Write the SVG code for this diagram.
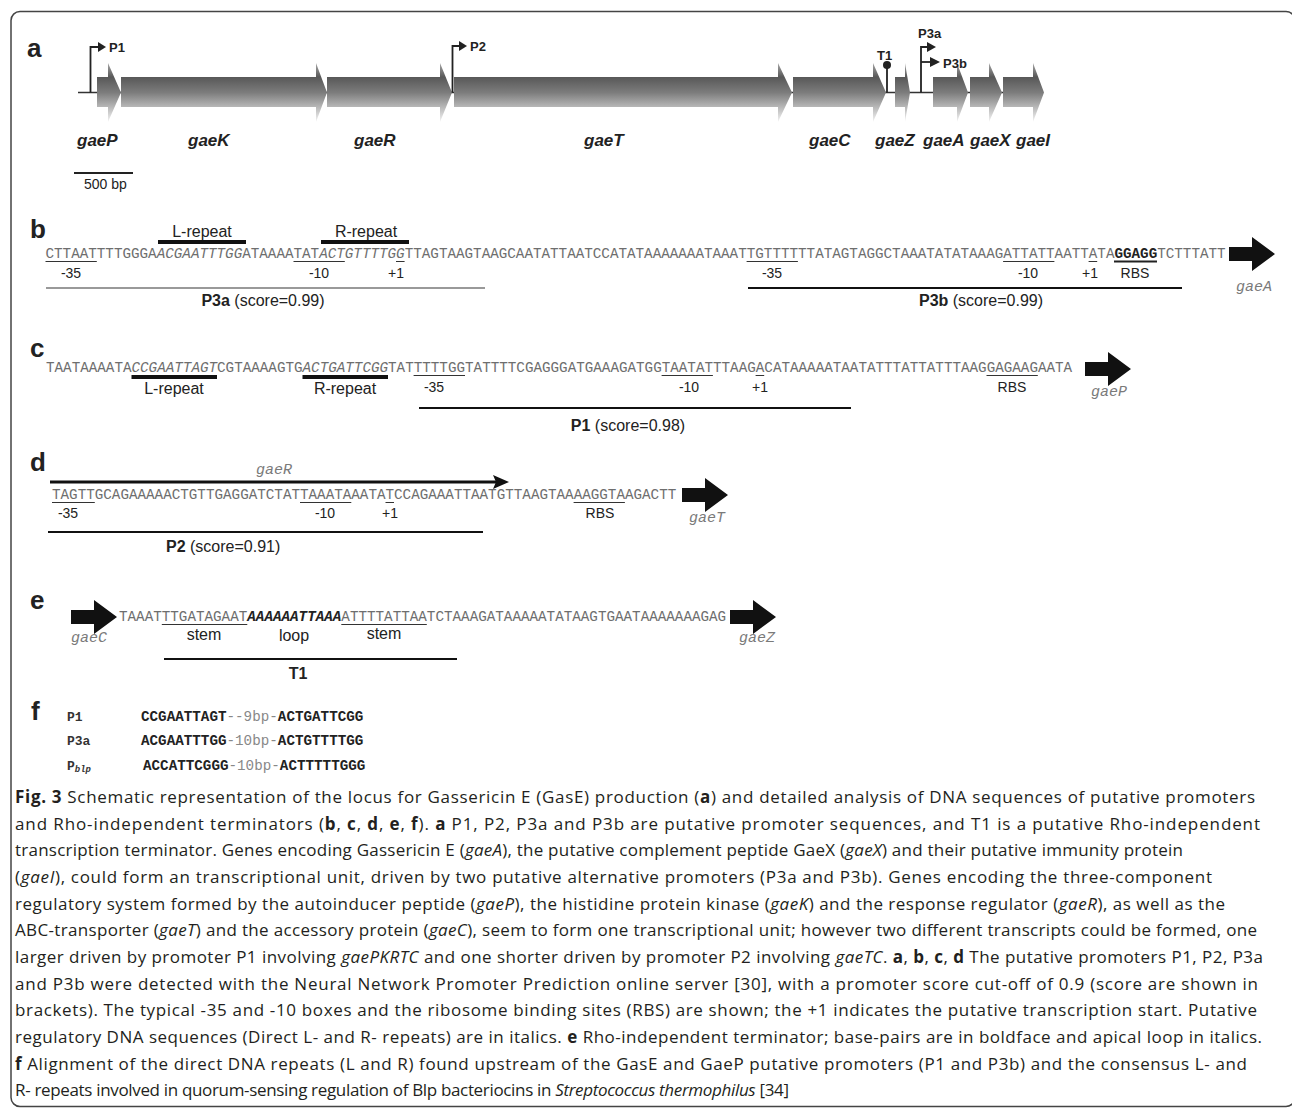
<svg xmlns="http://www.w3.org/2000/svg" width="1292" height="1111" viewBox="0 0 1292 1111">
<style>
.pl{font-family:"Liberation Sans",Arial,sans-serif;font-weight:bold;font-size:26px;fill:#222}
.gene{font-family:"Liberation Sans",Arial,sans-serif;font-weight:bold;font-style:italic;font-size:17px;fill:#222}
.pr{font-family:"Liberation Sans",Arial,sans-serif;font-weight:bold;font-size:13px;fill:#222}
.sm{font-family:"Liberation Sans",Arial,sans-serif;font-size:14px;fill:#222}
.rp{font-family:"Liberation Sans",Arial,sans-serif;font-size:16px;fill:#222}
.seq{font-family:"Liberation Mono","Courier New",monospace;font-size:14.25px;fill:#6e6e6e}
.mi{font-family:"Liberation Mono","Courier New",monospace;font-style:italic;font-size:15px;fill:#7a7a7a}
.fl{font-family:"Liberation Mono","Courier New",monospace;font-weight:bold;font-size:13px;fill:#333}
.fs{font-family:"Liberation Mono","Courier New",monospace;font-size:14.25px;fill:#888}
.b{font-weight:bold;fill:#222}
.i{font-style:italic}
.cap{font-family:"Open Sans","Liberation Sans",sans-serif;font-size:17px;fill:#231f20}
.ul{stroke:#333;stroke-width:1;fill:none}
.bar{stroke:#111;stroke-width:4;fill:none}
.ln{stroke:#111;stroke-width:2;fill:none}
.gA{fill:url(#gg)}
.prom{stroke:#222;stroke-width:1.8;fill:none}
</style>
<defs>
<linearGradient id="gg" gradientUnits="userSpaceOnUse" x1="0" y1="63" x2="0" y2="122">
<stop offset="0" stop-color="#a8a8a8"/>
<stop offset="0.24" stop-color="#585858"/>
<stop offset="0.5" stop-color="#7c7c7c"/>
<stop offset="0.75" stop-color="#b8b8b8"/>
<stop offset="1" stop-color="#f4f4f4"/>
</linearGradient>
<path id="ba" d="M0,-7 H23 V-17 L46,0 L23,17 V7 H0 Z" fill="#111"/>
</defs>
<rect x="0" y="0" width="1292" height="1111" fill="#fff"/>
<rect x="11" y="11.5" width="1284" height="1095" rx="9" fill="none" stroke="#444" stroke-width="1.5"/>

<!-- Panel a -->
<g id="panel-a">
<text class="pl" x="27" y="57">a</text>
<line x1="78" y1="92.5" x2="1040" y2="92.5" stroke="#333" stroke-width="1.5"/>
<g id="gaeP"><path class="gA" d="M97,77 H108 V63 L121,92.5 L108,122 V107 H97 Z"/><text class="gene" x="77" y="146">gaeP</text></g>
<g id="gaeK"><path class="gA" d="M121,77 H316 V63 L327,92.5 L316,122 V107 H121 Z"/><text class="gene" x="188" y="146">gaeK</text></g>
<g id="gaeR"><path class="gA" d="M327,77 H440 V63 L452,92.5 L440,122 V107 H327 Z"/><text class="gene" x="354" y="146">gaeR</text></g>
<g id="gaeT"><path class="gA" d="M454,77 H778 V63 L792,92.5 L778,122 V107 H454 Z"/><text class="gene" x="584" y="146">gaeT</text></g>
<g id="gaeC"><path class="gA" d="M793,77 H873 V63 L886,92.5 L873,122 V107 H793 Z"/><text class="gene" x="809" y="146">gaeC</text></g>
<g id="gaeZ"><path class="gA" d="M895,77 H905 V63 L910,92.5 L905,122 V107 H895 Z"/><text class="gene" x="875" y="146">gaeZ</text></g>
<g id="gaeA"><path class="gA" d="M933,77 H957 V63 L968,92.5 L957,122 V107 H933 Z"/><text class="gene" x="923" y="146">gaeA</text></g>
<g id="gaeX"><path class="gA" d="M970,77 H989 V63 L1002,92.5 L989,122 V107 H970 Z"/><text class="gene" x="970" y="146">gaeX</text></g>
<g id="gaeI"><path class="gA" d="M1003,77 H1033 V63 L1044,92.5 L1033,122 V107 H1003 Z"/><text class="gene" x="1016" y="146">gaeI</text></g>
<g id="P1a"><path class="prom" d="M90.5,92.5 V47 H99"/><path d="M98,42 L106,47 L98,52 Z" fill="#222"/><text class="pr" x="109" y="52">P1</text></g>
<g id="P2a"><path class="prom" d="M452.5,92.5 V46 H460"/><path d="M459,41 L467,46 L459,51 Z" fill="#222"/><text class="pr" x="470" y="51">P2</text></g>
<g id="T1a"><line x1="887" y1="92.5" x2="887" y2="66" stroke="#222" stroke-width="1.8"/><circle cx="887" cy="65" r="4" fill="#222"/><text class="pr" x="877" y="60">T1</text></g>
<g id="P3a-a"><path class="prom" d="M921,92.5 V47 H928"/><path d="M927,42 L936,47 L927,52 Z" fill="#222"/><text class="pr" x="918" y="38">P3a</text></g>
<g id="P3b-a"><path class="prom" d="M921,62 H931"/><path d="M930,57 L940,62 L930,67 Z" fill="#222"/><text class="pr" x="943" y="68">P3b</text></g>
<g id="scale"><line x1="74" y1="173" x2="133" y2="173" stroke="#222" stroke-width="2"/><text class="sm" x="84" y="189">500 bp</text></g>
</g>

<!-- Panel b -->
<g id="panel-b">
<text class="pl" x="30" y="238">b</text>
<text class="rp" x="202" y="237" text-anchor="middle">L-repeat</text>
<text class="rp" x="366" y="237" text-anchor="middle">R-repeat</text>
<line class="bar" x1="158" y1="242" x2="246" y2="242"/>
<line class="bar" x1="321" y1="242" x2="409" y2="242"/>
<text class="seq" x="45.5" y="258">CTTAATTTTGGGA<tspan class="i">ACGAATTTGG</tspan>ATAAAATAT<tspan class="i">ACTGTTTTGG</tspan>TTAGTAAGTAAGCAATATTAATCCATATAAAAAAATAAATTGTTTTTTATAGTAGGCTAAATATATAAAGATTATTAATTATA<tspan class="b">GGAGG</tspan>TCTTTATT</text>
<path class="ul" d="M45.5,261.5 H96.8 M293.5,261.5 H344.8 M396,261.5 H404.6 M746.6,261.5 H797.9 M1003.1,261.5 H1054.4 M1088.6,261.5 H1097.2"/>
<line x1="1114" y1="261.5" x2="1157" y2="261.5" stroke="#222" stroke-width="1.8"/>
<text class="sm" x="71" y="278" text-anchor="middle">-35</text>
<text class="sm" x="319" y="278" text-anchor="middle">-10</text>
<text class="sm" x="396" y="278" text-anchor="middle">+1</text>
<text class="sm" x="772" y="278" text-anchor="middle">-35</text>
<text class="sm" x="1028" y="278" text-anchor="middle">-10</text>
<text class="sm" x="1090" y="278" text-anchor="middle">+1</text>
<text class="sm" x="1135" y="278" text-anchor="middle">RBS</text>
<line x1="46" y1="288" x2="485" y2="288" stroke="#777" stroke-width="1.5"/>
<line class="ln" x1="748" y1="288" x2="1182" y2="288"/>
<text class="rp" x="263" y="306" text-anchor="middle"><tspan font-weight="bold">P3a</tspan> (score=0.99)</text>
<text class="rp" x="981" y="306" text-anchor="middle"><tspan font-weight="bold">P3b</tspan> (score=0.99)</text>
<use href="#ba" x="1229" y="254"/>
<text class="mi" x="1272" y="291" text-anchor="end">gaeA</text>
</g>

<!-- Panel c -->
<g id="panel-c">
<text class="pl" x="30" y="357">c</text>
<text class="seq" x="46" y="372">TAATAAAATA<tspan class="i">CCGAATTAGT</tspan>CGTAAAAGTG<tspan class="i">ACTGATTCGG</tspan>TATTTTTGGTATTTTCGAGGGATGAAAGATGGTAATATTTAAGACATAAAAATAATATTTATTATTTAAGGAGAAGAATA</text>
<line class="bar" x1="131.5" y1="377" x2="217" y2="377"/>
<line class="bar" x1="302.5" y1="377" x2="388" y2="377"/>
<path class="ul" d="M413.6,375.5 H465 M661.6,375.5 H712.9 M755.6,375.5 H764.2 M986.5,375.5 H1037.8"/>
<text class="rp" x="174" y="394" text-anchor="middle">L-repeat</text>
<text class="rp" x="345" y="394" text-anchor="middle">R-repeat</text>
<text class="sm" x="434" y="392" text-anchor="middle">-35</text>
<text class="sm" x="689" y="392" text-anchor="middle">-10</text>
<text class="sm" x="760" y="392" text-anchor="middle">+1</text>
<text class="sm" x="1012" y="392" text-anchor="middle">RBS</text>
<line class="ln" x1="419" y1="408" x2="851" y2="408"/>
<text class="rp" x="628" y="431" text-anchor="middle"><tspan font-weight="bold">P1</tspan> (score=0.98)</text>
<use href="#ba" x="1085" y="369"/>
<text class="mi" x="1127" y="396" text-anchor="end">gaeP</text>
</g>

<!-- Panel d -->
<g id="panel-d">
<text class="pl" x="30" y="471">d</text>
<text class="mi" x="274" y="474" text-anchor="middle">gaeR</text>
<line x1="50" y1="482" x2="500" y2="482" stroke="#111" stroke-width="3"/>
<path d="M509,482 L493,475 L496,482 L493,489 Z" fill="#111"/>
<text class="seq" x="52" y="499">TAGTTGCAGAAAAACTGTTGAGGATCTATTAAATAAATATCCAGAAATTAATGTTAAGTAAAAGGTAAGACTT</text>
<path class="ul" d="M52,502.5 H94.8 M300,502.5 H351.3 M385.5,502.5 H394 M573.6,502.5 H624.9"/>
<text class="sm" x="68" y="518" text-anchor="middle">-35</text>
<text class="sm" x="325" y="518" text-anchor="middle">-10</text>
<text class="sm" x="390" y="518" text-anchor="middle">+1</text>
<text class="sm" x="600" y="518" text-anchor="middle">RBS</text>
<line class="ln" x1="48" y1="532" x2="483" y2="532"/>
<text class="rp" x="166" y="552"><tspan font-weight="bold">P2</tspan> (score=0.91)</text>
<use href="#ba" x="682" y="495"/>
<text class="mi" x="725" y="522" text-anchor="end">gaeT</text>
</g>

<!-- Panel e -->
<g id="panel-e">
<text class="pl" x="30" y="609">e</text>
<use href="#ba" x="71" y="617"/>
<text class="mi" x="71" y="642">gaeC</text>
<text class="seq" x="119" y="621">TAAATTTGATAGAAT<tspan font-weight="bold" font-style="italic" fill="#222">AAAAAATTAAA</tspan>ATTTTATTAATCTAAAGATAAAAATATAAGTGAATAAAAAAAGAG</text>
<path class="ul" d="M161.8,624.5 H247.3 M341.3,624.5 H426.8"/>
<text class="rp" x="204" y="640" text-anchor="middle">stem</text>
<text class="rp" x="294" y="641" text-anchor="middle">loop</text>
<text class="rp" x="384" y="639" text-anchor="middle">stem</text>
<use href="#ba" x="730" y="617"/>
<text class="mi" x="775" y="642" text-anchor="end">gaeZ</text>
<line class="ln" x1="164" y1="659" x2="457" y2="659"/>
<text class="rp" x="298" y="679" text-anchor="middle" font-weight="bold">T1</text>
</g>

<!-- Panel f -->
<g id="panel-f">
<text class="pl" x="31" y="720">f</text>
<text class="fl" x="67" y="721">P1</text>
<text class="fl" x="67" y="745">P3a</text>
<text class="fl" x="67" y="770">P<tspan font-style="italic" font-size="9px" dy="2">blp</tspan></text>
<text class="fs" x="141" y="721"><tspan class="b">CCGAATTAGT</tspan>--9bp-<tspan class="b">ACTGATTCGG</tspan></text>
<text class="fs" x="141" y="745"><tspan class="b">ACGAATTTGG</tspan>-10bp-<tspan class="b">ACTGTTTTGG</tspan></text>
<text class="fs" x="143" y="770"><tspan class="b">ACCATTCGGG</tspan>-10bp-<tspan class="b">ACTTTTTGGG</tspan></text>
</g>

<!-- Caption -->
<g id="caption" class="cap">
<text x="15" y="803" textLength="1240" lengthAdjust="spacing"><tspan font-weight="bold">Fig. 3</tspan> Schematic representation of the locus for Gassericin E (GasE) production (<tspan font-weight="bold">a</tspan>) and detailed analysis of DNA sequences of putative promoters</text>
<text x="15" y="829.5" textLength="1245" lengthAdjust="spacing">and Rho-independent terminators (<tspan font-weight="bold">b</tspan>, <tspan font-weight="bold">c</tspan>, <tspan font-weight="bold">d</tspan>, <tspan font-weight="bold">e</tspan>, <tspan font-weight="bold">f</tspan>). <tspan font-weight="bold">a</tspan> P1, P2, P3a and P3b are putative promoter sequences, and T1 is a putative Rho-independent</text>
<text x="15" y="856" textLength="1168" lengthAdjust="spacing">transcription terminator. Genes encoding Gassericin E (<tspan font-style="italic">gaeA</tspan>), the putative complement peptide GaeX (<tspan font-style="italic">gaeX</tspan>) and their putative immunity protein</text>
<text x="15" y="883" textLength="1197" lengthAdjust="spacing">(<tspan font-style="italic">gaeI</tspan>), could form an transcriptional unit, driven by two putative alternative promoters (P3a and P3b). Genes encoding the three-component</text>
<text x="15" y="909.5" textLength="1210" lengthAdjust="spacing">regulatory system formed by the autoinducer peptide (<tspan font-style="italic">gaeP</tspan>), the histidine protein kinase (<tspan font-style="italic">gaeK</tspan>) and the response regulator (<tspan font-style="italic">gaeR</tspan>), as well as the</text>
<text x="15" y="936" textLength="1242" lengthAdjust="spacing">ABC-transporter (<tspan font-style="italic">gaeT</tspan>) and the accessory protein (<tspan font-style="italic">gaeC</tspan>), seem to form one transcriptional unit; however two different transcripts could be formed, one</text>
<text x="15" y="963" textLength="1248" lengthAdjust="spacing">larger driven by promoter P1 involving <tspan font-style="italic">gaePKRTC</tspan> and one shorter driven by promoter P2 involving <tspan font-style="italic">gaeTC</tspan>. <tspan font-weight="bold">a</tspan>, <tspan font-weight="bold">b</tspan>, <tspan font-weight="bold">c</tspan>, <tspan font-weight="bold">d</tspan> The putative promoters P1, P2, P3a</text>
<text x="15" y="989.5" textLength="1243" lengthAdjust="spacing">and P3b were detected with the Neural Network Promoter Prediction online server [30], with a promoter score cut-off of 0.9 (score are shown in</text>
<text x="15" y="1016" textLength="1242" lengthAdjust="spacing">brackets). The typical -35 and -10 boxes and the ribosome binding sites (RBS) are shown; the +1 indicates the putative transcription start. Putative</text>
<text x="15" y="1043" textLength="1247" lengthAdjust="spacing">regulatory DNA sequences (Direct L- and R- repeats) are in italics. <tspan font-weight="bold">e</tspan> Rho-independent terminator; base-pairs are in boldface and apical loop in italics.</text>
<text x="15" y="1069.5" textLength="1232" lengthAdjust="spacing"><tspan font-weight="bold">f</tspan> Alignment of the direct DNA repeats (L and R) found upstream of the GasE and GaeP putative promoters (P1 and P3b) and the consensus L- and</text>
<text x="15" y="1096" textLength="774" lengthAdjust="spacing">R- repeats involved in quorum-sensing regulation of Blp bacteriocins in <tspan font-style="italic">Streptococcus thermophilus</tspan> [34]</text>
</g>
</svg>
